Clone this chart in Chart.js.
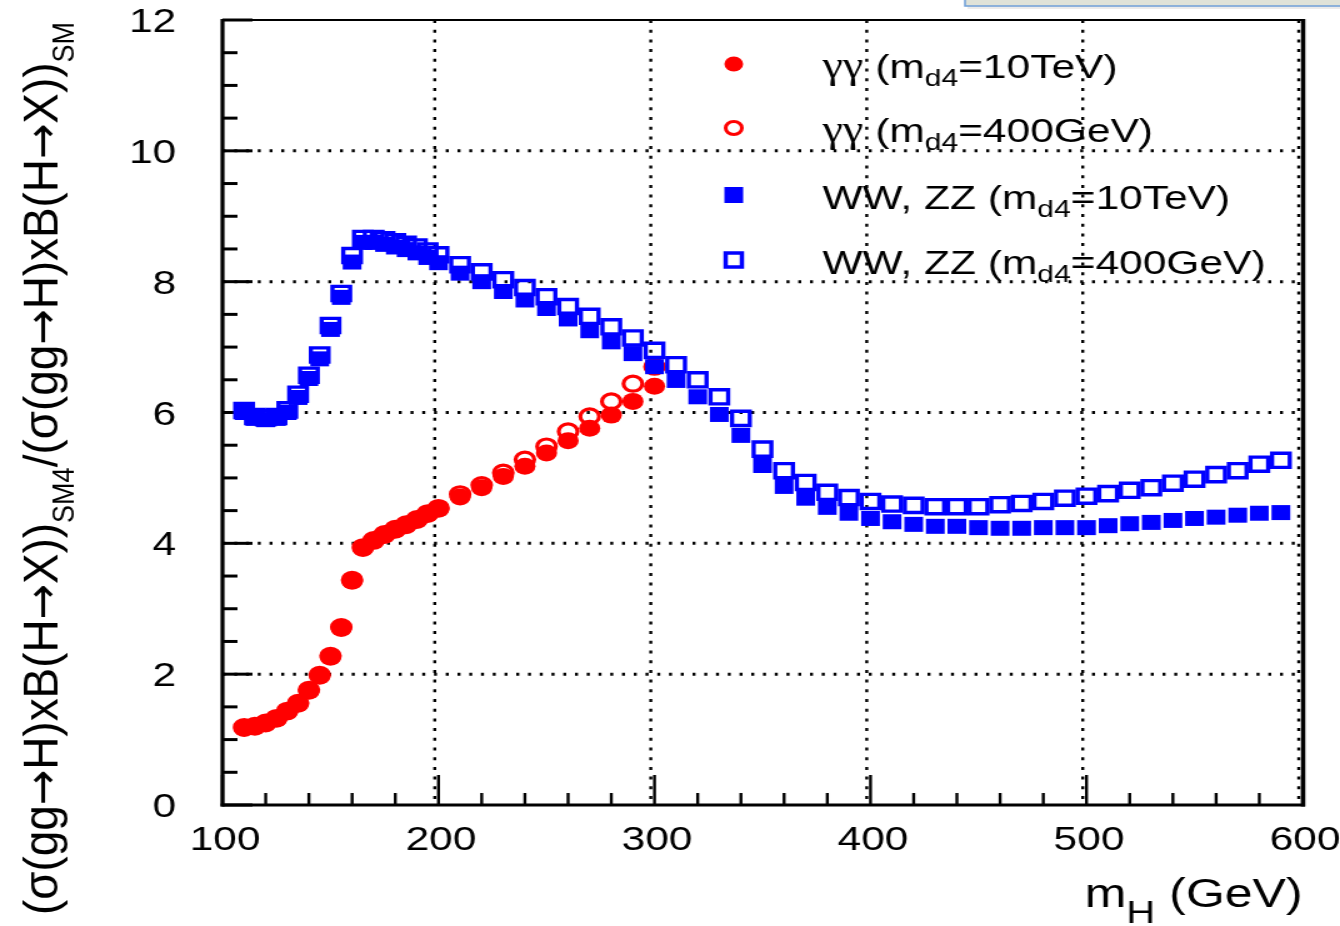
<!DOCTYPE html>
<html>
<head>
<meta charset="utf-8">
<script src="https://cdn.jsdelivr.net/npm/chart.js@4.4.1/dist/chart.umd.min.js"></script>
<style>
  html, body { margin: 0; padding: 0; background: #fff; overflow: hidden; }
  #wrap { width: 1072px; height: 926px; transform: scaleX(1.25); transform-origin: 0 0; }
</style>
</head>
<body>
<div id="wrap"><canvas id="chart_1" width="1072" height="926"></canvas></div>
<script>
// Higgs mass points (GeV)
const massGeV = [110,115,120,125,130,135,140,145,150,155,160,165,170,175,180,185,190,195,200,
  210,220,230,240,250,260,270,280,290,300,310,320,330,340,350,360,370,380,390,400,
  410,420,430,440,450,460,470,480,490,500,510,520,530,540,550,560,570,580,590]

// gamma gamma, only up to 300 GeV
const gamHeavy = [1.17,1.19,1.24,1.31,1.42,1.54,1.74,1.97,2.26,2.70,3.42,3.92,4.03,4.12,4.20,4.27,4.35,4.44,4.52,
  4.71,4.85,5.02,5.18,5.38,5.57,5.76,5.96,6.17,6.40]
const gamLight = [1.19,1.21,1.26,1.33,1.44,1.56,1.76,1.99,2.28,2.72,3.44,3.94,4.05,4.14,4.22,4.29,4.37,4.46,4.54,
  4.75,4.89,5.08,5.28,5.48,5.71,5.94,6.17,6.44,6.70]

// WW, ZZ
const wzHeavy = [6.00,5.91,5.89,5.91,6.00,6.23,6.52,6.82,7.27,7.76,8.30,8.60,8.60,8.57,8.53,8.49,8.44,8.37,8.29,
  8.13,8.00,7.85,7.72,7.59,7.43,7.25,7.08,6.90,6.70,6.49,6.24,5.97,5.65,5.19,4.87,4.69,4.55,4.46,4.38,
  4.33,4.29,4.26,4.26,4.24,4.23,4.23,4.24,4.24,4.24,4.27,4.30,4.32,4.35,4.38,4.40,4.43,4.46,4.47]
const wzLight = [6.03,5.94,5.92,5.94,6.04,6.28,6.57,6.88,7.33,7.82,8.40,8.66,8.66,8.64,8.61,8.57,8.53,8.47,8.41,
  8.26,8.15,8.03,7.91,7.77,7.62,7.47,7.31,7.14,6.95,6.73,6.50,6.24,5.91,5.44,5.11,4.93,4.78,4.70,4.64,
  4.60,4.58,4.56,4.56,4.56,4.59,4.61,4.64,4.69,4.72,4.76,4.81,4.85,4.92,4.98,5.05,5.11,5.21,5.27]

const xTicks = [100,200,300,400,500,600]
const yTicks = [0,2,4,6,8,10,12]
const xGrid = [200,300,400,500,600]
const yGrid = [2,4,6,8,10]

const RED = '#ff0000', BLUE = '#0000ff'
const SANS = '"Liberation Sans", Arial, sans-serif'
const ARROW = '"DejaVu Sans", sans-serif'

function pts(vals) {
  return vals.map((v, i) => ({ x: massGeV[i], y: v }))
}

function line(ctx, x1, y1, x2, y2) {
  ctx.beginPath(); ctx.moveTo(x1, y1); ctx.lineTo(x2, y2); ctx.stroke()
}

// draw text pieces in a row, [text, font, dy]
function richText(ctx, x, y, parts) {
  parts.forEach(p => {
    ctx.font = p[1]
    ctx.fillText(p[0], x, y + (p[2] || 0))
    x += ctx.measureText(p[0]).width
  })
  return x
}

function textWidth(ctx, parts) {
  let w = 0
  parts.forEach(p => { ctx.font = p[1]; w += ctx.measureText(p[0]).width })
  return w
}

const framePlugin = {
  id: 'frame',
  beforeDatasetsDraw(chart) {
    const { ctx, chartArea: a, scales: { x, y } } = chart
    ctx.save()
    ctx.strokeStyle = '#000'
    ctx.lineCap = 'butt'
    ctx.lineWidth = 3
    ctx.setLineDash([2.4, 7])
    yGrid.forEach(v => { const py = y.getPixelForValue(v); line(ctx, a.left, py, a.right, py) })
    ctx.lineWidth = 2.4
    ctx.setLineDash([3, 6.7])
    xGrid.forEach(v => { const px = x.getPixelForValue(v) - 3; line(ctx, px, a.top, px, a.bottom) })
    ctx.setLineDash([])
    // y ticks, inward from the left axis
    ctx.lineWidth = 3
    for (let v = 0; v <= 12; v += 0.5) {
      const py = y.getPixelForValue(v)
      line(ctx, a.left, py, a.left + (v % 2 === 0 ? 24 : 12), py)
    }
    // x ticks, upward from the bottom axis
    ctx.lineWidth = 2.4
    for (let v = 100; v <= 600; v += 20) {
      const px = x.getPixelForValue(v)
      line(ctx, px, a.bottom, px, a.bottom - (v % 100 === 0 ? 30 : 12))
    }
    ctx.restore()
  },
  afterDatasetsDraw(chart) {
    const { ctx, chartArea: a } = chart
    ctx.save()
    ctx.strokeStyle = '#000'
    ctx.lineWidth = 2
    line(ctx, a.left, a.top, a.right, a.top)
    ctx.lineWidth = 3.2
    line(ctx, a.left, a.top - 1, a.left, a.bottom + 1.5)
    line(ctx, a.left - 1.5, a.bottom, a.right + 2, a.bottom)
    ctx.lineWidth = 3.5
    line(ctx, a.right + 0.5, a.top - 1, a.right + 0.5, a.bottom + 1.5)
    ctx.restore()
  },
  afterDraw(chart) {
    const { ctx, chartArea: a, scales: { x, y } } = chart
    ctx.save()
    ctx.fillStyle = '#000'
    // tick labels
    ctx.font = '34px ' + SANS
    ctx.textAlign = 'right'
    yTicks.forEach(v => ctx.fillText(String(v), 141, y.getPixelForValue(v) + 12))
    ctx.textAlign = 'center'
    xTicks.forEach(v => ctx.fillText(String(v), x.getPixelForValue(v) + 2, 850))

    // x title, right aligned to the frame
    ctx.textAlign = 'left'
    const xt = [['m', '40px ' + SANS], ['H', '32px ' + SANS, 16], [' (GeV)', '40px ' + SANS]]
    richText(ctx, a.right - textWidth(ctx, xt), 907, xt)

    // y title, rotated
    const big = '39px ' + SANS, arr = '36px ' + ARROW, sub = '23px ' + SANS
    const half = [['(σ(gg', big], ['→', arr], ['H)xB(H', big], ['→', arr], ['X))', big]]
    const parts = [...half, ['SM4', sub, 13], ['/', big], ...half, ['SM', sub, 13]]
    const total = textWidth(ctx, parts)
    ctx.translate(46, 915)
    ctx.rotate(-Math.PI / 2)
    ctx.scale(893 / total, 1)
    richText(ctx, 0, 0, parts)
    ctx.restore()

    // legend
    ctx.save()
    const rows = [
      ['γγ', ' (m', '=10TeV)', 'fc'],
      ['γγ', ' (m', '=400GeV)', 'oc'],
      ['WW, ZZ', ' (m', '=10TeV)', 'fs'],
      ['WW, ZZ', ' (m', '=400GeV)', 'os']
    ]
    const rowY = [64, 128, 195, 260]
    const mx = 587
    rows.forEach((r, i) => {
      const cy = rowY[i]
      ctx.fillStyle = r[3][1] === 'c' ? RED : BLUE
      ctx.strokeStyle = ctx.fillStyle
      if (r[3] === 'fc') { ctx.beginPath(); ctx.arc(mx, cy, 7.5, 0, Math.PI * 2); ctx.fill() }
      if (r[3] === 'oc') { ctx.lineWidth = 3; ctx.beginPath(); ctx.arc(mx, cy, 6.5, 0, Math.PI * 2); ctx.stroke() }
      if (r[3] === 'fs') ctx.fillRect(mx - 7.5, cy - 8, 15, 16)
      if (r[3] === 'os') { ctx.lineWidth = 3.5; ctx.strokeRect(mx - 6.5, cy - 7, 13, 14) }
      ctx.fillStyle = '#000'
      const first = r[0] === 'γγ' ? '37px "Liberation Serif", serif' : '34px ' + SANS
      richText(ctx, 658, cy + 14, [[r[0], first], [r[1], '34px ' + SANS], ['d4', '24px ' + SANS, 8], [r[2], '34px ' + SANS]])
    })

    // small window strip at top right
    ctx.fillStyle = 'rgba(0,0,0,0.08)'
    ctx.fillRect(774, 0, 300, 9)
    ctx.fillStyle = '#dfe2d8'
    ctx.fillRect(772, -2, 302, 8)
    ctx.strokeStyle = '#6f9fd8'
    ctx.lineWidth = 1.5
    ctx.strokeRect(772, -2, 302, 8)
    ctx.restore()
  }
}

const chart = new Chart('chart_1', {
  type: 'scatter',
  data: {
    datasets: [
      { label: 'gg 10TeV', data: pts(gamHeavy), pointStyle: 'circle', pointRadius: 8.5,
        backgroundColor: RED, borderWidth: 0, order: 3 },
      { label: 'gg 400GeV', data: pts(gamLight), pointStyle: 'circle', pointRadius: 7.5,
        backgroundColor: 'rgba(0,0,0,0)', borderColor: RED, borderWidth: 3.2, order: 2 },
      { label: 'WW ZZ 10TeV', data: pts(wzHeavy), pointStyle: 'rect', pointRadius: 10.6,
        backgroundColor: BLUE, borderWidth: 0, order: 1 },
      { label: 'WW ZZ 400GeV', data: pts(wzLight), pointStyle: 'rect', pointRadius: 10,
        backgroundColor: 'rgba(0,0,0,0)', borderColor: BLUE, borderWidth: 3.4, order: 0 }
    ]
  },
  options: {
    responsive: false,
    animation: false,
    devicePixelRatio: 1,
    events: [],
    layout: { padding: { left: 178, right: 30, top: 20, bottom: 121 } },
    scales: {
      x: { type: 'linear', min: 100, max: 600, display: false },
      y: { type: 'linear', min: 0, max: 12, display: false }
    },
    plugins: { legend: { display: false }, tooltip: { enabled: false } }
  },
  plugins: [framePlugin]
})
</script>
</body>
</html>
